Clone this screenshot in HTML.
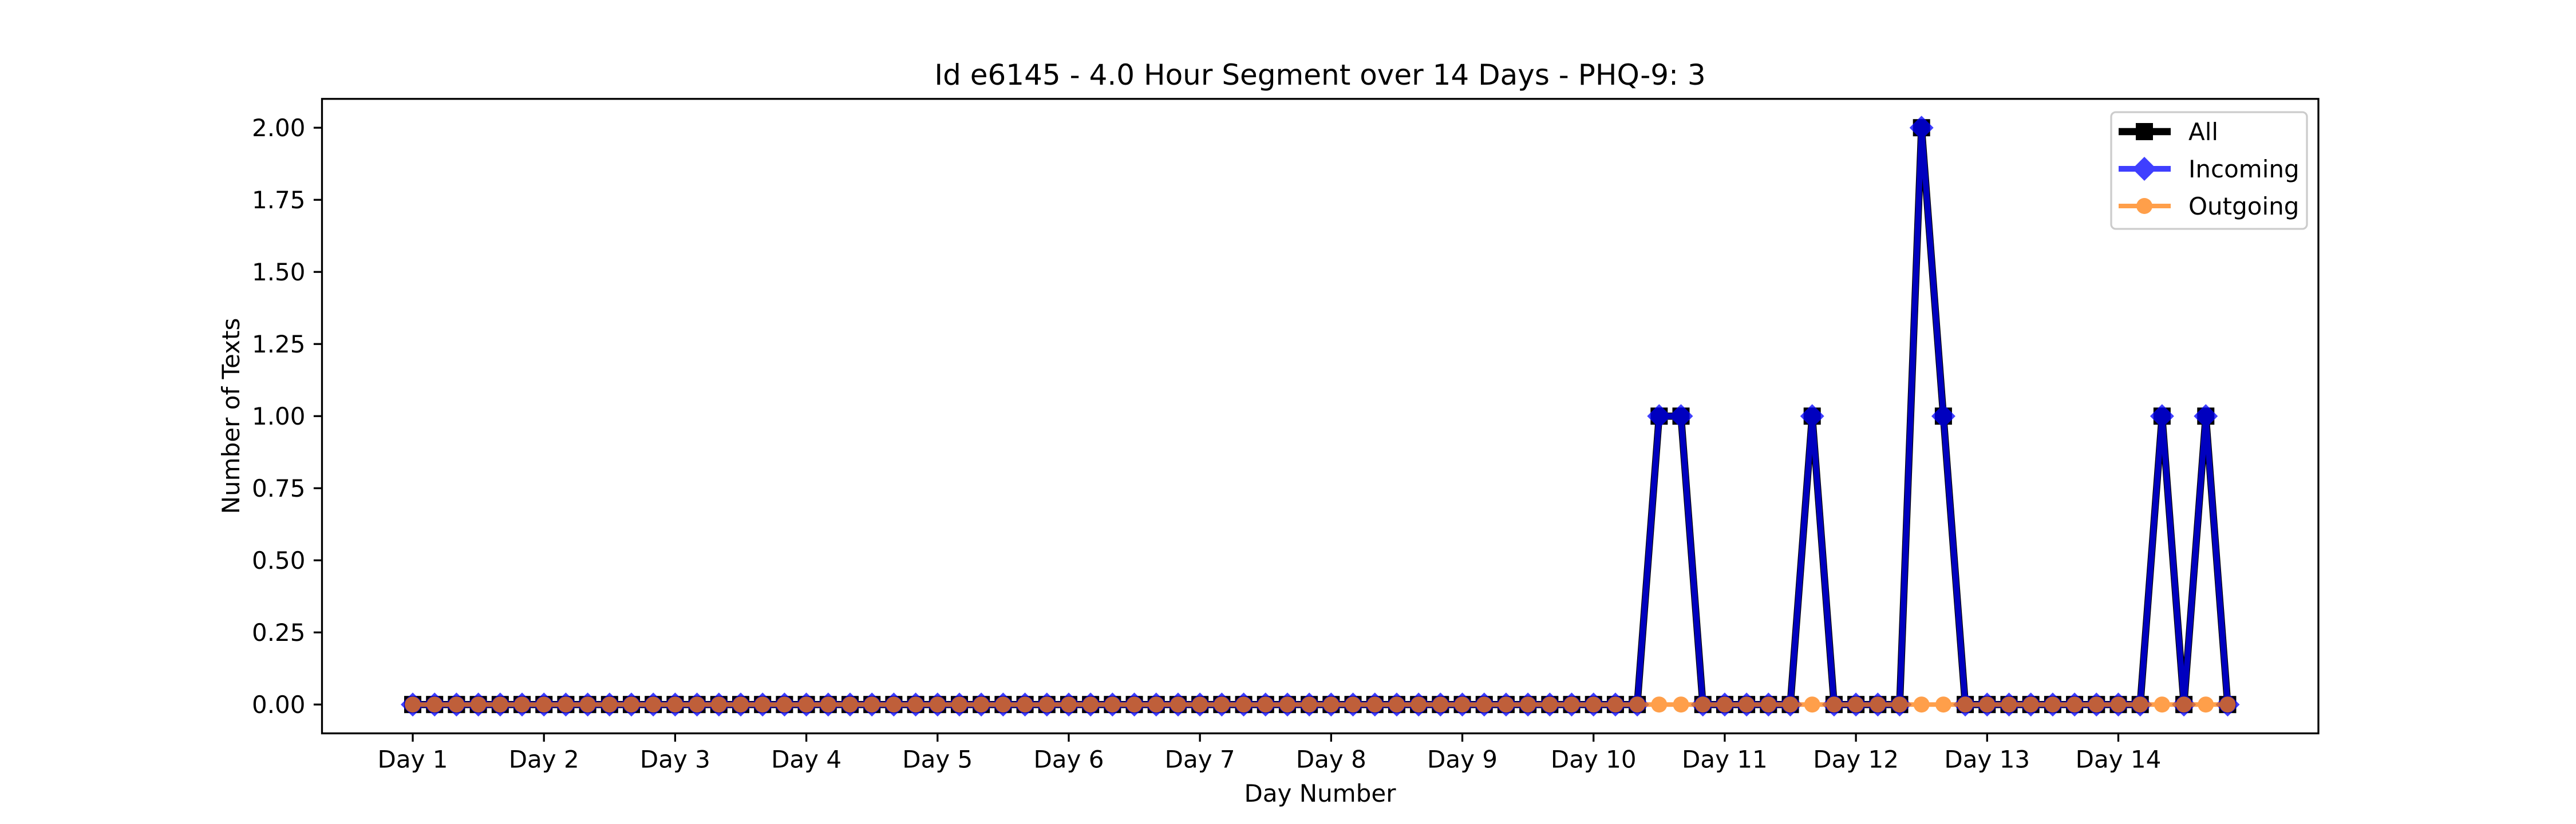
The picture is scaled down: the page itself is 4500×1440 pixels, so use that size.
<!DOCTYPE html>
<html><head><meta charset="utf-8"><style>
html,body{margin:0;padding:0;background:#fff;}
svg{display:block;font-family:"DejaVu Sans","Liberation Sans",sans-serif;}
</style></head><body>
<svg id="chart" width="4500" height="1440" viewBox="0 0 4500 1440" xmlns="http://www.w3.org/2000/svg">
<rect width="4500" height="1440" fill="#fff"/>
<text x="2306" y="148" font-size="50" text-anchor="middle">Id e6145 - 4.0 Hour Segment over 14 Days - PHQ-9: 3</text>
<g id="marks"></g>
<g id="axes"></g>
<rect x="562.5" y="172.8" width="3487.5" height="1108.8" fill="none" stroke="#000" stroke-width="3.3"/>
<text x="2306" y="1415" font-size="42" text-anchor="middle" dy="-14">Day Number</text>
<text transform="translate(418,727) rotate(-90)" font-size="42" text-anchor="middle">Number of Texts</text>
<g id="legend"></g>
</svg>
<script>
const dayLabels = ["Day 1","Day 2","Day 3","Day 4","Day 5","Day 6","Day 7","Day 8","Day 9","Day 10","Day 11","Day 12","Day 13","Day 14"];
const yTicks = [0,0.25,0.5,0.75,1.0,1.25,1.5,1.75,2.0];
const allCounts = [0,0,0,0,0,0, 0,0,0,0,0,0, 0,0,0,0,0,0, 0,0,0,0,0,0, 0,0,0,0,0,0, 0,0,0,0,0,0, 0,0,0,0,0,0, 0,0,0,0,0,0, 0,0,0,0,0,0, 0,0,0,1,1,0, 0,0,0,0,1,0, 0,0,0,2,1,0, 0,0,0,0,0,0, 0,0,1,0,1,0];
const incomingCounts = [0,0,0,0,0,0, 0,0,0,0,0,0, 0,0,0,0,0,0, 0,0,0,0,0,0, 0,0,0,0,0,0, 0,0,0,0,0,0, 0,0,0,0,0,0, 0,0,0,0,0,0, 0,0,0,0,0,0, 0,0,0,1,1,0, 0,0,0,0,1,0, 0,0,0,2,1,0, 0,0,0,0,0,0, 0,0,1,0,1,0];
const outgoingCounts = [0,0,0,0,0,0, 0,0,0,0,0,0, 0,0,0,0,0,0, 0,0,0,0,0,0, 0,0,0,0,0,0, 0,0,0,0,0,0, 0,0,0,0,0,0, 0,0,0,0,0,0, 0,0,0,0,0,0, 0,0,0,0,0,0, 0,0,0,0,0,0, 0,0,0,0,0,0, 0,0,0,0,0,0, 0,0,0,0,0,0];

const NS="http://www.w3.org/2000/svg";
const L=562.5,R=4050,T=172.8,B=1281.6;
const n=allCounts.length;
const vals=[...allCounts,...incomingCounts,...outgoingCounts];
const ymax=Math.max(...vals), ymin=Math.min(...vals);
const ypad=(ymax-ymin||1)*0.05;
const y0=ymin-ypad, y1=ymax+ypad;
const xpad=(n-1)*0.05;
const x0=-xpad, x1=n-1+xpad;
function xs(i){return L+(i-x0)/(x1-x0)*(R-L);}
function ys(v){return B-(v-y0)/(y1-y0)*(B-T);}
function mk(tag,attrs,parent){const e=document.createElementNS(NS,tag);for(const k in attrs)e.setAttribute(k,attrs[k]);parent.appendChild(e);return e;}

const axes=document.getElementById('axes');
yTicks.forEach(v=>{
  const y=ys(v);
  const t=mk('line',{x1:L-14.6,x2:L,y1:y,y2:y,stroke:'#000','stroke-width':3.3},axes);
  
  
  const tx=mk('text',{x:L-29,y:y+15,'font-size':42,'text-anchor':'end'},axes);
  
  
  tx.textContent=v.toFixed(2);
});
dayLabels.forEach((d,k)=>{
  const x=xs(k*6);
  const t=mk('line',{x1:x,x2:x,y1:B,y2:B+14.6,stroke:'#000','stroke-width':3.3},axes);
  
  
  const tx=mk('text',{x:x,y:B+60,'font-size':42,'text-anchor':'middle'},axes);
  
  
  tx.textContent=d;
});

const marks=document.getElementById('marks');
function drawMarker(shape,x,y,ms,color,g){
  if(shape==='s') return mk('rect',{x:x-ms/2,y:y-ms/2,width:ms,height:ms,fill:color},g);
  if(shape==='D') return mk('polygon',{points:`${x},${y-ms/2} ${x+ms/2},${y} ${x},${y+ms/2} ${x-ms/2},${y}`,fill:color},g);
  return mk('circle',{cx:x,cy:y,r:ms/2,fill:color},g);
}
function series(data,name,color,opacity,lw,shape,ms){
  const g=mk('g',{opacity:opacity},marks);
  
  
  const pts=data.map((v,i)=>xs(i).toFixed(1)+','+ys(v).toFixed(1)).join(' ');
  const pl=mk('polyline',{points:pts,fill:'none',stroke:color,'stroke-width':lw,'stroke-linejoin':'round'},g);
  
  
  data.forEach((v,i)=>{
    const m=drawMarker(shape,xs(i),ys(v),ms,color,g);
    
    
  });
}
series(allCounts,'all','#000',1,12.5,'s',30);
series(incomingCounts,'incoming','#0000ff',0.75,10,'D',42);
series(outgoingCounts,'outgoing','#ff7f0e',0.75,8,'o',28);

const lg=document.getElementById('legend');
const box=mk('rect',{x:3688,y:196,width:342,height:204,rx:8,fill:'#fff','fill-opacity':0.8,stroke:'#ccc','stroke-width':3.3},lg);


const entries=[['All','#000',1,12.5,'s',30],['Incoming','#0000ff',0.75,10,'D',42],['Outgoing','#ff7f0e',0.75,8,'o',28]];
entries.forEach((e,i)=>{
  const y=230+i*65;
  const g=mk('g',{opacity:e[2]},lg);
  
  
  mk('line',{x1:3701,x2:3792,y1:y,y2:y,stroke:e[1],'stroke-width':e[3]},g);
  drawMarker(e[4],3746,y,e[5],e[1],g);
  const t=mk('text',{x:3823,y:y+15,'font-size':42},lg);
  
  
  t.textContent=e[0];
});
</script>
</body></html>
